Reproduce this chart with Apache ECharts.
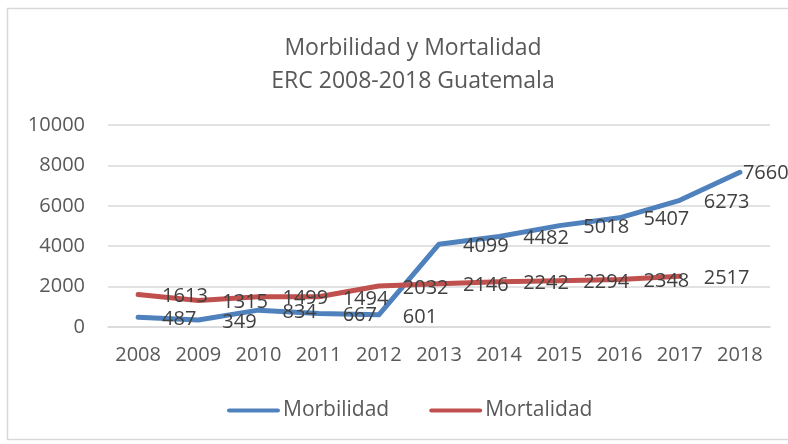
<!DOCTYPE html>
<html>
<head>
<meta charset="utf-8">
<script src="https://cdn.jsdelivr.net/npm/echarts@6/dist/echarts.min.js"></script>
<style>
  html, body { margin: 0; padding: 0; background: #fff; }
  #chart { width: 788px; height: 444px; }
</style>
</head>
<body>
<div id="chart"></div>
<script>
// datos
const years = ['2008', '2009', '2010', '2011', '2012', '2013', '2014', '2015', '2016', '2017', '2018'];
const morbilidad = [487, 349, 834, 667, 601, 4099, 4482, 5018, 5407, 6273, 7660];
const mortalidad = [1613, 1315, 1499, 1494, 2032, 2146, 2242, 2294, 2348, 2517, null];
const yTicks = [0, 2000, 4000, 6000, 8000, 10000];

const font = '"Open Sans", "Liberation Sans", sans-serif';
const textColor = '#595959';
const labelColor = '#404040';

const chart = echarts.init(document.getElementById('chart'));

// etiquetas a la derecha del punto, el último valor queda pegado
function withLabels(values) {
  return values.map((v, i) => {
    if (v === null) return '-';
    if (i === values.length - 1) {
      return { value: v, label: { offset: [-2, 1] } };
    }
    return v;
  });
}

const lineIcon = 'path://M2,0 L48,0 A2,2 0 0 1 48,4 L2,4 A2,2 0 0 1 2,0 Z';

const labelStyle = {
  show: true, position: 'right', distance: 5, offset: [19, 2],
  color: labelColor, fontSize: 20, fontFamily: font
};

chart.setOption({
  animation: false,
  textStyle: { fontFamily: font },
  graphic: [{
    type: 'rect',
    shape: { x: 7.5, y: 8.5, width: 800, height: 431 },
    style: { fill: 'none', stroke: '#d9d9d9', lineWidth: 1.5 },
    silent: true
  }],
  title: {
    text: 'Morbilidad y Mortalidad\nERC 2008-2018 Guatemala',
    left: 408,
    top: 27,
    textAlign: 'center',
    textStyle: {
      fontFamily: font,
      fontSize: 23,
      fontWeight: 'normal',
      color: textColor,
      lineHeight: 33
    }
  },
  legend: {
    bottom: 18,
    left: 222,
    itemWidth: 53,
    itemHeight: 5,
    itemGap: 40,
    icon: lineIcon,
    textStyle: { fontFamily: font, fontSize: 21, color: textColor, padding: [0, 0, 0, -2] },
    data: ['Morbilidad', 'Mortalidad']
  },
  grid: { left: 108, right: 18, top: 125, bottom: 117 },
  xAxis: {
    type: 'category',
    data: years,
    boundaryGap: true,
    axisLine: { show: true, lineStyle: { color: '#d9d9d9', width: 1.5 } },
    axisTick: { show: false },
    axisLabel: { color: textColor, fontSize: 20, margin: 18, fontFamily: font }
  },
  yAxis: {
    type: 'value',
    min: yTicks[0],
    max: yTicks[yTicks.length - 1],
    interval: yTicks[1] - yTicks[0],
    axisLine: { show: false },
    axisTick: { show: false },
    axisLabel: {
      color: textColor, fontSize: 20, margin: 23, fontFamily: font,
      formatter: (v) => String(v)
    },
    splitLine: { lineStyle: { color: '#d9d9d9', width: 1.5 } }
  },
  series: [
    {
      name: 'Morbilidad',
      type: 'line',
      data: withLabels(morbilidad),
      symbol: 'circle',
      symbolSize: 0,
      lineStyle: { color: '#4f81bd', width: 5, cap: 'round', join: 'round' },
      itemStyle: { color: '#4f81bd' },
      label: labelStyle
    },
    {
      name: 'Mortalidad',
      type: 'line',
      data: withLabels(mortalidad),
      symbol: 'circle',
      symbolSize: 0,
      lineStyle: { color: '#c0504d', width: 5, cap: 'round', join: 'round' },
      itemStyle: { color: '#c0504d' },
      label: labelStyle
    }
  ]
});
</script>
</body>
</html>
